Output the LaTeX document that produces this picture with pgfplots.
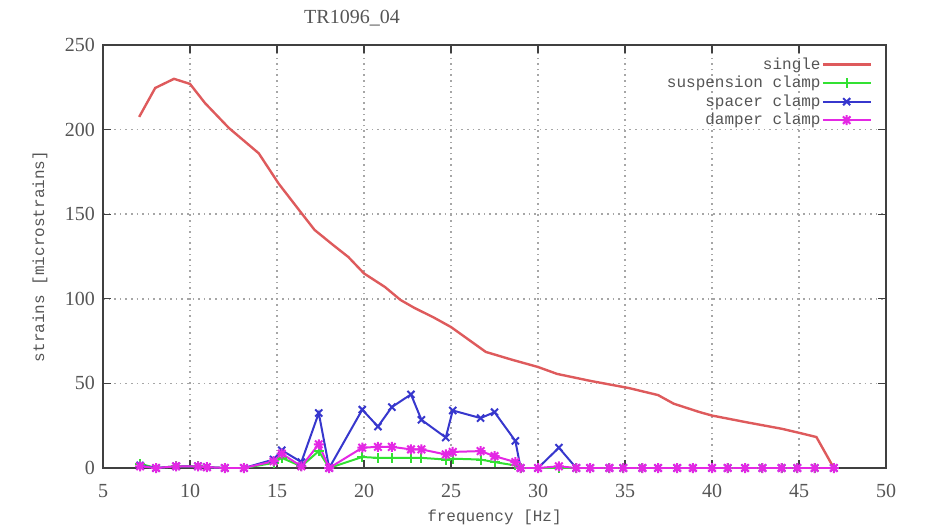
\documentclass[border=0pt]{standalone}
\usepackage{fontspec}
\setmainfont{Liberation Serif}
\newfontfamily\gpmono{Liberation Mono}
\usepackage{pgfplots}
\usepackage{pgfplotstable}
\pgfplotsset{compat=1.18}

\definecolor{gpred}{RGB}{222,90,92}
\definecolor{gpgreen}{RGB}{50,225,50}
\definecolor{gpblue}{RGB}{55,55,205}
\definecolor{gpmag}{RGB}{228,40,228}
\definecolor{gptext}{RGB}{85,85,85}

% gnuplot style '*' (plus and cross overlaid)
\pgfdeclareplotmark{gpstar}{%
  \pgfpathmoveto{\pgfqpoint{-\pgfplotmarksize}{0pt}}\pgfpathlineto{\pgfqpoint{\pgfplotmarksize}{0pt}}%
  \pgfpathmoveto{\pgfqpoint{0pt}{-\pgfplotmarksize}}\pgfpathlineto{\pgfqpoint{0pt}{\pgfplotmarksize}}%
  \pgfpathmoveto{\pgfqpoint{-.75\pgfplotmarksize}{-.75\pgfplotmarksize}}\pgfpathlineto{\pgfqpoint{.75\pgfplotmarksize}{.75\pgfplotmarksize}}%
  \pgfpathmoveto{\pgfqpoint{-.75\pgfplotmarksize}{.75\pgfplotmarksize}}\pgfpathlineto{\pgfqpoint{.75\pgfplotmarksize}{-.75\pgfplotmarksize}}%
  \pgfusepathqstroke}

\pgfplotstableread{
f     sus   spa   dam
7.13  2.5   1.5   1
8.05  0     0     0
9.2   1     1     1
10.46 1     1     1
10.97 0.5   0.5   0.5
12.0  0     0     0
13.1  0     0     0
14.8  3     5     4
15.27 6     10.5  8.5
16.4  1     3.5   1
17.4  10    32.5  14
18.0  0     0     0
19.9  6.5   34.5  12
20.8  6     24.5  12.5
21.6  6     36    12.5
22.7  6     43.5  11
23.3  6     28.5  11
24.7  5     18    8
25.1  5.5   34    9.5
26.7  5     29.5  10
27.5  3.5   33    7
28.7  1.5   16    3.5
29.0  0     0     0
30.0  0     0     0
31.2  0     12    1
32.2  0     0     0
33.0  0     0     0
34.1  0     0     0
34.9  0     0     0
36.0  0     0     0
36.9  0     0     0
38.0  0     0     0
38.9  0     0     0
40.0  0     0     0
40.9  0     0     0
41.9  0     0     0
42.9  0     0     0
44.0  0     0     0
44.9  0     0     0
45.9  0     0     0
47.0  0     0     0
}\clamps

\begin{document}
\begin{tikzpicture}
\path[use as bounding box] (-51.5pt,-31pt) rectangle (414pt,234pt);
\begin{axis}[
    scale only axis,
    width=391.5pt, height=211.5pt,
    xmin=5, xmax=50, ymin=0, ymax=250,
    xtick={5,10,...,50}, ytick={0,50,...,250},
    tick pos=both, tick align=inside,
    major tick length=4pt,
    /pgf/number format/assume math mode=true,
    ticklabel style={font=\fontsize{10}{12}\selectfont, text=gptext},
    xticklabel style={yshift=-4.5pt},
    yticklabel style={xshift=-0.5pt},
    axis line style={draw=black!75, line width=0.7pt},
    every tick/.style={draw=black!75, line width=0.6pt},
    grid=major,
    major grid style={draw=black!35, line width=0.8pt, dotted},
    title={TR1096\_04},
    title style={at={(axis description cs:0.318,1.036)}, anchor=center,
                 font=\fontsize{10}{12}\selectfont, text=gptext},
    xlabel={frequency [Hz]},
    xlabel style={at={(axis description cs:0.5,-0.116)}, anchor=center,
                  font=\gpmono\fontsize{8}{10}\selectfont, text=gptext},
    ylabel={strains [microstrains]},
    ylabel style={at={(axis description cs:-0.0805,0.5)}, anchor=center,
                  font=\gpmono\fontsize{8}{10}\selectfont, text=gptext},
    legend plot pos=right,
    legend cell align=right,
    legend style={at={(axis description cs:0.99,0.984)}, anchor=north east,
                  draw=none, fill=none, font=\gpmono\fontsize{8}{10}\selectfont,
                  text=gptext, row sep=0.75pt,
                  nodes={inner sep=0.5pt, text height=6pt, text depth=1.5pt}},
    legend image code/.code={\draw[mark repeat=2,mark phase=2,#1]
        plot coordinates {(0cm,0cm) (0.42cm,0cm) (0.84cm,0cm)};},
    every axis plot/.append style={line width=1pt},
    mark size=2.5pt,
]
\addplot[gpred, no marks, line width=1.2pt] coordinates {
 (7.08,207.5) (8.0,224.6) (9.08,230) (10.0,227) (10.86,215.7) (12.23,201)
 (13.95,186) (15.1,168) (16.4,150.7) (17.16,140.7) (18.2,132) (19.1,124.7)
 (20.0,115) (21.2,107) (22.1,99.3) (22.9,94.6) (24.0,89) (25.0,83.3)
 (27.0,68.6) (28.5,64) (30.0,59.7) (31.1,55.6) (33.0,51.5) (35.2,47.3)
 (36.9,43.1) (37.8,38) (39.3,33) (40.0,31) (42.0,27) (44.0,23.2) (45.0,20.8)
 (46.0,18.3) (47.0,0)
};
\addlegendentry{single}
\addplot[gpgreen, mark=+, mark options={solid}] table[x=f, y=sus] {\clamps};
\addlegendentry{suspension clamp}
\addplot[gpblue, mark=x, mark options={solid}] table[x=f, y=spa] {\clamps};
\addlegendentry{spacer clamp}
\addplot[gpmag, mark=gpstar, mark options={solid}] table[x=f, y=dam] {\clamps};
\addlegendentry{damper clamp}
\end{axis}
\end{tikzpicture}
\end{document}
